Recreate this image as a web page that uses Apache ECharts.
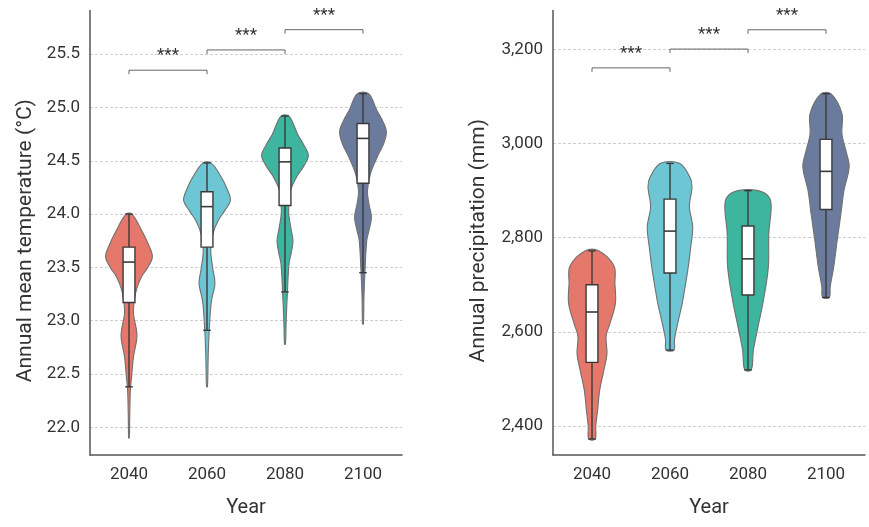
<!DOCTYPE html>
<html>
<head>
<meta charset="utf-8">
<script src="https://cdn.jsdelivr.net/npm/echarts@6/dist/echarts.min.js"></script>
<style>
  html, body { margin: 0; padding: 0; background: #ffffff; }
  #chart { width: 869px; height: 527px; }
</style>
</head>
<body>
<div id="chart"></div>
<script>
// Projection years shared by both panels
const years = ['2040', '2060', '2080', '2100'];

// ---- Annual mean temperature (°C) ----
// Violin outlines: [value, relative density (1 = widest)]
const tempDensity2040 = [[24.00, 0.13], [23.85, 0.53], [23.72, 0.82], [23.60, 1.00], [23.50, 0.80], [23.41, 0.53], [23.30, 0.33], [23.19, 0.23], [23.07, 0.19], [22.86, 0.34], [22.66, 0.19], [22.47, 0.11], [22.35, 0.06], [22.10, 0.03], [21.90, 0.015]];
const tempDensity2060 = [[24.48, 0.17], [24.35, 0.60], [24.24, 0.85], [24.13, 1.00], [24.03, 0.75], [23.94, 0.48], [23.82, 0.26], [23.66, 0.16], [23.50, 0.24], [23.35, 0.34], [23.22, 0.22], [23.13, 0.16], [22.89, 0.09], [22.66, 0.05], [22.38, 0.02]];
const tempDensity2080 = [[24.92, 0.17], [24.75, 0.54], [24.65, 0.80], [24.55, 1.00], [24.45, 0.80], [24.35, 0.50], [24.22, 0.23], [24.10, 0.17], [24.00, 0.16], [23.87, 0.25], [23.75, 0.34], [23.63, 0.26], [23.53, 0.17], [23.25, 0.10], [23.00, 0.05], [22.78, 0.02]];
const tempDensity2100 = [[25.13, 0.24], [24.97, 0.60], [24.87, 0.85], [24.77, 1.00], [24.66, 0.88], [24.56, 0.66], [24.38, 0.32], [24.22, 0.19], [24.10, 0.25], [23.97, 0.36], [23.85, 0.26], [23.75, 0.16], [23.44, 0.08], [23.22, 0.04], [22.97, 0.02]];
// Box statistics: [lower whisker, Q1, median, Q3, upper whisker]
const tempBox = [
  [22.38, 23.17, 23.55, 23.69, 24.00],
  [22.91, 23.69, 24.07, 24.21, 24.48],
  [23.27, 24.08, 24.49, 24.62, 24.92],
  [23.45, 24.29, 24.71, 24.85, 25.13]
];
// Pairwise comparisons: [from year index, to year index, bracket level]
const tempBrackets = [[0, 1, 25.35], [1, 2, 25.54], [2, 3, 25.73]];

// ---- Annual precipitation (mm) ----
const precipDensity2040 = [[2772, 0.28], [2740, 0.94], [2703, 0.98], [2660, 1.00], [2618, 0.77], [2590, 0.60], [2554, 0.64], [2519, 0.51], [2476, 0.33], [2434, 0.24], [2398, 0.16], [2372, 0.14]];
const precipDensity2060 = [[2958, 0.40], [2929, 0.85], [2908, 0.94], [2866, 0.83], [2823, 0.97], [2774, 0.87], [2745, 0.80], [2703, 0.67], [2660, 0.52], [2618, 0.33], [2583, 0.19], [2561, 0.17]];
const precipDensity2080 = [[2900, 0.43], [2887, 0.89], [2866, 0.99], [2809, 0.89], [2738, 0.87], [2667, 0.66], [2611, 0.43], [2561, 0.23], [2519, 0.14]];
const precipDensity2100 = [[3106, 0.21], [3064, 0.68], [3021, 0.68], [2985, 0.85], [2951, 0.99], [2901, 0.77], [2852, 0.64], [2795, 0.48], [2738, 0.33], [2696, 0.18], [2673, 0.14]];
const precipBox = [
  [2372, 2535, 2642, 2700, 2772],
  [2561, 2725, 2814, 2882, 2958],
  [2519, 2678, 2755, 2825, 2900],
  [2673, 2860, 2941, 3009, 3106]
];
const precipBrackets = [[0, 1, 3161], [1, 2, 3201], [2, 3, 3242]];

const sigLabel = '***';

const tempDensity = [tempDensity2040, tempDensity2060, tempDensity2080, tempDensity2100];
const precipDensity = [precipDensity2040, precipDensity2060, precipDensity2080, precipDensity2100];

const palette = ['#e5776b', '#6dc6d4', '#3db59f', '#6b7b9e'];
const FONT = 'Roboto, "DejaVu Sans", sans-serif';
const INK = '#3a3a3a';

// Violin + inner box plot for one year
function violinRenderer(densities, boxes) {
  return function (params, api) {
    const i = params.dataIndex;
    const cat = api.value(0);
    const band = api.size([1, 0])[0];
    const maxHalf = band * 0.3;
    const right = [];
    const left = [];
    densities[i].forEach(function (d) {
      const p = api.coord([cat, d[0]]);
      right.push([p[0] + d[1] * maxHalf, p[1]]);
      left.push([p[0] - d[1] * maxHalf, p[1]]);
    });
    const outline = right.concat(left.reverse());
    const s = boxes[i];
    const x = api.coord([cat, s[2]])[0];
    const yLo = api.coord([cat, s[0]])[1];
    const yQ1 = api.coord([cat, s[1]])[1];
    const yMed = api.coord([cat, s[2]])[1];
    const yQ3 = api.coord([cat, s[3]])[1];
    const yHi = api.coord([cat, s[4]])[1];
    const boxHalf = band * 0.076;
    const capHalf = band * 0.048;
    return {
      type: 'group',
      children: [
        { type: 'polygon', shape: { points: outline, smooth: 0.35 },
          style: { fill: palette[i], stroke: '#707070', lineWidth: 1.1 } },
        { type: 'line', shape: { x1: x, y1: yHi, x2: x, y2: yLo },
          style: { stroke: INK, lineWidth: 1.4 } },
        { type: 'line', shape: { x1: x - capHalf, y1: yLo, x2: x + capHalf, y2: yLo },
          style: { stroke: INK, lineWidth: 1.4 } },
        { type: 'line', shape: { x1: x - capHalf, y1: yHi, x2: x + capHalf, y2: yHi },
          style: { stroke: INK, lineWidth: 1.4 } },
        { type: 'rect', shape: { x: x - boxHalf, y: yQ3, width: boxHalf * 2, height: yQ1 - yQ3 },
          style: { fill: '#ffffff', stroke: INK, lineWidth: 1.4 } },
        { type: 'line', shape: { x1: x - boxHalf, y1: yMed, x2: x + boxHalf, y2: yMed },
          style: { stroke: INK, lineWidth: 1.6 } }
      ]
    };
  };
}

// Significance bracket between two neighbouring years
function bracketRenderer(params, api) {
  const a = api.coord([api.value(0), api.value(2)]);
  const b = api.coord([api.value(1), api.value(2)]);
  const drop = 4;
  return {
    type: 'group',
    children: [
      { type: 'polyline',
        shape: { points: [[a[0], a[1] + drop], [a[0], a[1]], [b[0], b[1]], [b[0], b[1] + drop]] },
        style: { stroke: '#666666', lineWidth: 1, fill: null } },
      { type: 'text',
        style: { x: (a[0] + b[0]) / 2, y: a[1] - 14, text: sigLabel, align: 'center',
                 verticalAlign: 'middle', fontSize: 17, fontFamily: FONT, fill: '#333333' } }
    ]
  };
}

function categoryAxis(gridIndex) {
  return {
    type: 'category', gridIndex: gridIndex, data: years,
    axisTick: { show: false },
    axisLine: { lineStyle: { color: '#555555', width: 1.5 } },
    axisLabel: { fontSize: 17, color: '#333333', margin: 11, fontFamily: FONT },
    name: 'Year', nameLocation: 'middle', nameGap: 43,
    nameTextStyle: { fontSize: 20, color: '#333333', fontFamily: FONT }
  };
}

function valueAxis(gridIndex, name, min, max, splitNumber, formatter, nameGap) {
  return {
    type: 'value', gridIndex: gridIndex, min: min, max: max, splitNumber: splitNumber,
    name: name, nameLocation: 'middle', nameGap: nameGap,
    nameTextStyle: { fontSize: 21, color: '#333333', fontFamily: FONT, padding: [0, 16, 0, 0] },
    axisLine: { show: true, lineStyle: { color: '#555555', width: 1.5 } },
    axisTick: { show: false },
    axisLabel: { fontSize: 17, color: '#333333', margin: 10, fontFamily: FONT,
                 showMinLabel: false, showMaxLabel: false, formatter: formatter },
    splitLine: { show: true, showMinLine: false, showMaxLine: false,
                 lineStyle: { color: '#cfcfcf', type: [3, 2], width: 1 } }
  };
}

const chart = echarts.init(document.getElementById('chart'), null, { renderer: 'canvas' });
chart.setOption({
  backgroundColor: '#ffffff',
  animation: false,
  grid: [
    { left: 90, right: 467, top: 10.5, bottom: 72 },
    { left: 553, right: 4, top: 10.5, bottom: 72 }
  ],
  xAxis: [categoryAxis(0), categoryAxis(1)],
  yAxis: [
    valueAxis(0, 'Annual mean temperature (°C)', 21.74, 25.91, 8,
      function (v) { return v.toFixed(1); }, 54),
    valueAxis(1, 'Annual precipitation (mm)', 2338, 3283, 5,
      function (v) { return v.toLocaleString('en-US'); }, 64)
  ],
  series: [
    { type: 'custom', xAxisIndex: 0, yAxisIndex: 0, renderItem: violinRenderer(tempDensity, tempBox),
      data: years.map(function (y, i) { return [i, tempBox[i][2]]; }), encode: { x: 0, y: 1 } },
    { type: 'custom', xAxisIndex: 0, yAxisIndex: 0, renderItem: bracketRenderer,
      data: tempBrackets, encode: { x: [0, 1], y: 2 } },
    { type: 'custom', xAxisIndex: 1, yAxisIndex: 1, renderItem: violinRenderer(precipDensity, precipBox),
      data: years.map(function (y, i) { return [i, precipBox[i][2]]; }), encode: { x: 0, y: 1 } },
    { type: 'custom', xAxisIndex: 1, yAxisIndex: 1, renderItem: bracketRenderer,
      data: precipBrackets, encode: { x: [0, 1], y: 2 } }
  ]
});
</script>
</body>
</html>
